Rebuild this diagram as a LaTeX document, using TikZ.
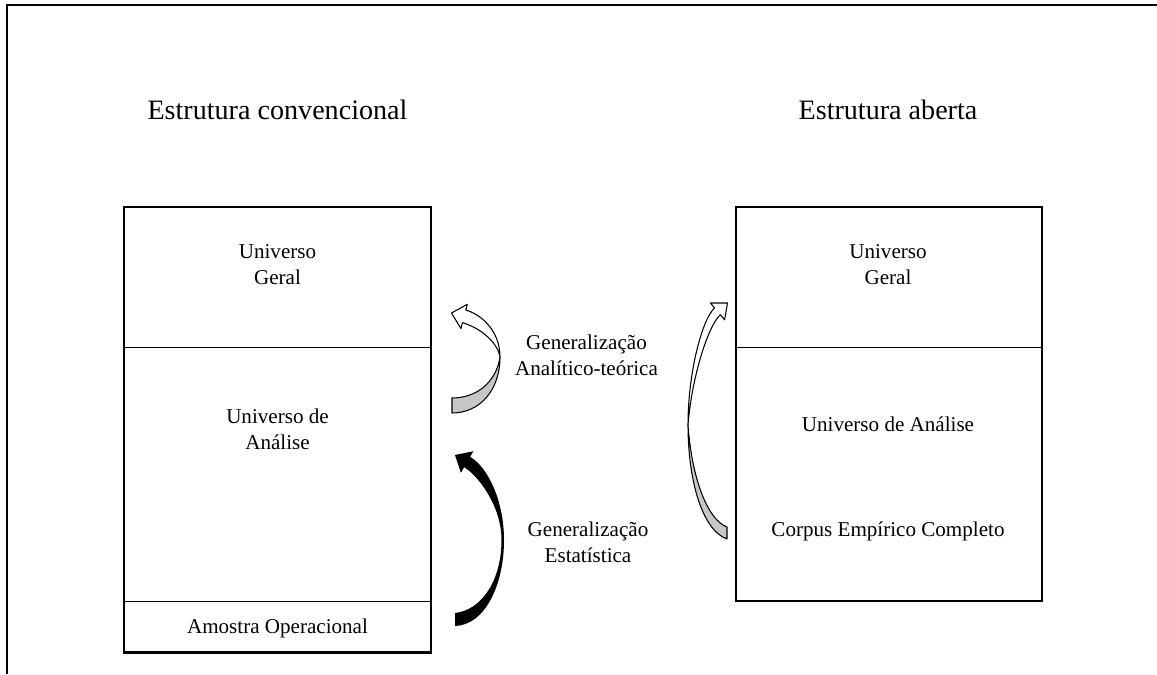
\documentclass[tikz,border=0pt]{standalone}
\usepackage{fontspec}
\setmainfont{Liberation Serif}

\tikzset{
  cell/.style={draw, line width=0.5pt, inner sep=0pt},
  boxline/.style={line width=1.2pt},
  pageframe/.style={line width=1.1pt},
  body/.style={font=\fontsize{12}{14.9}\selectfont, align=center, inner sep=0pt},
  title/.style={font=\fontsize{16}{19}\selectfont, inner sep=0pt},
  backside/.style={fill=black!22, draw, line width=0.6pt, line join=round},
  frontside/.style={fill=white, draw, line width=0.6pt, line join=round},
}

\begin{document}
\begin{tikzpicture}[x=0.02cm,y=-0.02cm]
\useasboundingbox (0,0) rectangle (1157,674);

% page frame
\draw[pageframe] (7,674) -- (7,5) -- (1157,5);

\node (convTitle) at (277.5,119) [title, anchor=base] {Estrutura convencional};
\node (openTitle) at (888,119) [title, anchor=base] {Estrutura aberta};

% conventional structure
\node (geralL) at (277.5,277) [cell, minimum width=6.14cm, minimum height=2.8cm] {};
\node (analL) at (277.5,474) [cell, minimum width=6.14cm, minimum height=5.08cm] {};
\node (amostra) at (277.5,626.5) [cell, minimum width=6.14cm, minimum height=1.02cm] {};
\draw[boxline] (geralL.north west) rectangle (amostra.south east);

\node (geralLtext) at (277.5,265) [body] {Universo\\Geral};
\node (analLtext) at (277.5,429) [body] {Universo de\\Análise};
\node (amostraText) at (277.5,633) [body, anchor=base] {Amostra Operacional};

% open structure
\node (geralR) at (889,277) [cell, minimum width=6.12cm, minimum height=2.8cm] {};
\node (analR) at (889,474) [cell, minimum width=6.12cm, minimum height=5.08cm] {};
\draw[boxline] (geralR.north west) rectangle (analR.south east);

\node (geralRtext) at (888,265) [body] {Universo\\Geral};
\node (analRtext) at (888,431) [body, anchor=base] {Universo de Análise};
\node (corpusText) at (888,536) [body, anchor=base] {Corpus Empírico Completo};

% middle labels
\node (genTeor) at (586.5,355) [body] {Generalização\\Analítico-teórica};
\node (genEstat) at (588,542.5) [body] {Generalização\\Estatística};

% curved arrow, analytic (left)
\filldraw[backside] (452,413) .. controls (480,413) and (500,390) .. (500,357)
  .. controls (496,383) and (476,398) .. (452,398) -- cycle;
\filldraw[frontside] (500,357) .. controls (500,330) and (480.3,314) .. (465.8,310.1)
  -- (467.3,304.3) -- (451.5,313) -- (460.9,328.5) -- (462.4,322.7)
  .. controls (476.9,326.6) and (497,340) .. (500,357) -- cycle;

% curved arrow, statistical
\fill[black] (455,455) -- (473.4,451.2) -- (470.1,456.8)
  .. controls (487.4,466.8) and (504,500) .. (504,540)
  .. controls (504,585) and (485,625) .. (455,626) -- (455,613)
  .. controls (482,610) and (501.5,580) .. (501.5,540)
  .. controls (501.5,505) and (477.1,474.7) .. (464.1,467.2) -- (460.9,472.8) -- cycle;

% curved arrow, analytic (right)
\filldraw[backside] (688,425) .. controls (688,480) and (702,530) .. (727,539)
  -- (727,527) .. controls (708,520) and (692,480) .. (688,425) -- cycle;
\filldraw[frontside] (688,425) .. controls (688,370) and (703.1,317.6) .. (714.6,308)
  -- (710.4,303) -- (727.5,303) -- (724.6,319.8) -- (720.4,314.8)
  .. controls (708.9,324.4) and (692,375) .. (688,425) -- cycle;
\end{tikzpicture}
\end{document}
